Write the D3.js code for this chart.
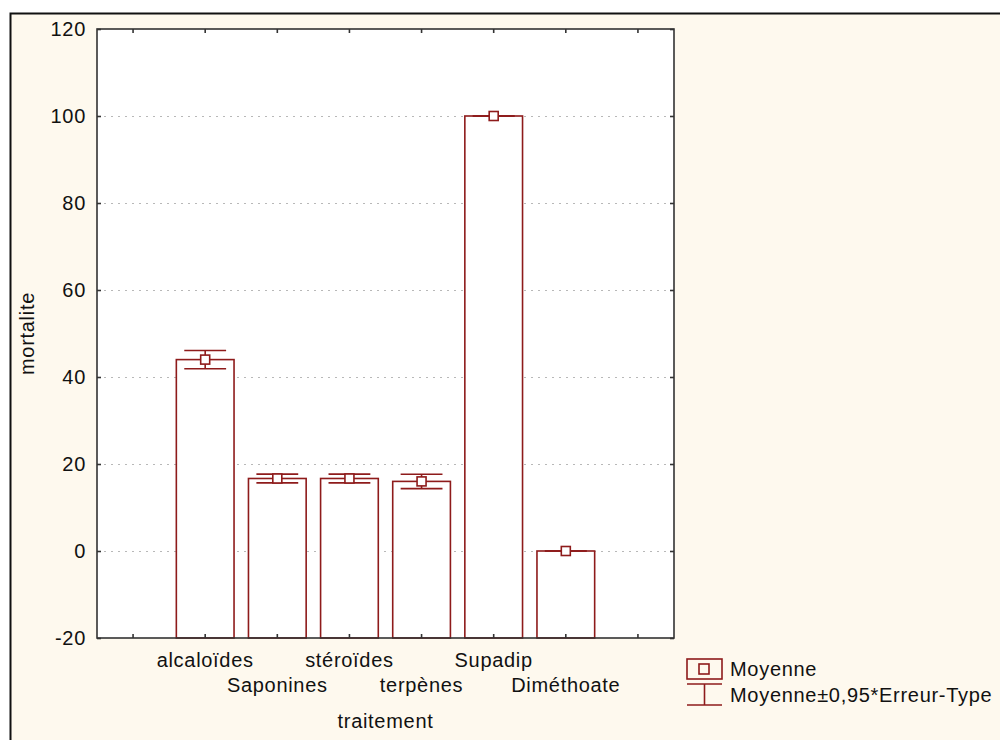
<!DOCTYPE html>
<html>
<head>
<meta charset="utf-8">
<script src="https://cdn.jsdelivr.net/npm/d3@7"></script>
<style>
  body { margin: 0; background: #fff; }
  svg { display: block; font-family: "Liberation Sans", Arial, sans-serif; }
  svg text { letter-spacing: 0.7px; }
</style>
</head>
<body>
<svg id="chart" width="1000" height="740"></svg>
<script>
const categories = ["alcaloïdes", "Saponines", "stéroïdes", "terpènes", "Supadip", "Diméthoate"];
const means = [44, 16.67, 16.67, 16, 100, 0];
const errors = [2.1, 1.0, 1.0, 1.65, 0, 0];
const yTicks = [-20, 0, 20, 40, 60, 80, 100, 120];
const gridTicks = [0, 20, 40, 60, 80, 100];

const red = "#8e1b1b";
const svg = d3.select("#chart");

// outer frame
svg.append("rect")
    .attr("x", 10.5).attr("y", 13.5)
    .attr("width", 1000).attr("height", 740)
    .attr("fill", "#fef9ee")
    .attr("stroke", "#111")
    .attr("stroke-width", 2);

const pLeft = 97, pRight = 674, pTop = 29, pBottom = 638;

// 8 slots, first and last empty
const x = d3.scaleBand()
    .domain(d3.range(8))
    .range([pLeft, pRight])
    .padding(0);

const y = d3.scaleLinear()
    .domain([-20, 120])
    .range([pBottom, pTop]);

const data = categories.map((c, i) => ({ name: c, mean: means[i], err: errors[i], slot: i + 1 }));

svg.append("rect")
    .attr("x", pLeft).attr("y", pTop)
    .attr("width", pRight - pLeft).attr("height", pBottom - pTop)
    .attr("fill", "#fff");

// grid
svg.append("g")
    .selectAll("line")
    .data(gridTicks)
    .join("line")
    .attr("x1", pLeft).attr("x2", pRight)
    .attr("y1", d => y(d) + 0.5).attr("y2", d => y(d) + 0.5)
    .attr("stroke", "#b8b8b8")
    .attr("stroke-width", 1)
    .attr("stroke-dasharray", "2,5");

// bars
const bw = x.bandwidth() * 0.8;
const cx = d => x(d.slot) + x.bandwidth() / 2;

svg.append("g")
    .selectAll("rect")
    .data(data)
    .join("rect")
    .attr("x", d => cx(d) - bw / 2)
    .attr("y", d => y(d.mean))
    .attr("width", bw)
    .attr("height", d => pBottom - y(d.mean))
    .attr("fill", "#fff")
    .attr("stroke", red)
    .attr("stroke-width", 1.6);

// error bars
const capW = x.bandwidth() * 0.29;
const eg = svg.append("g").attr("stroke", red).attr("stroke-width", 1.6).attr("fill", "none");
data.forEach(d => {
    const c = cx(d);
    eg.append("line").attr("x1", c).attr("x2", c)
        .attr("y1", y(d.mean + d.err)).attr("y2", y(d.mean - d.err));
    [d.mean + d.err, d.mean - d.err].forEach(v => {
        eg.append("line").attr("x1", c - capW).attr("x2", c + capW)
            .attr("y1", y(v)).attr("y2", y(v));
    });
});

// mean markers
svg.append("g")
    .selectAll("rect")
    .data(data)
    .join("rect")
    .attr("x", d => cx(d) - 4.5)
    .attr("y", d => y(d.mean) - 4.5)
    .attr("width", 9).attr("height", 9)
    .attr("fill", "#fff")
    .attr("stroke", red)
    .attr("stroke-width", 1.6);

// frame
svg.append("rect")
    .attr("x", pLeft).attr("y", pTop)
    .attr("width", pRight - pLeft).attr("height", pBottom - pTop)
    .attr("fill", "none")
    .attr("stroke", "#333")
    .attr("stroke-width", 1.6);

// axes with inward ticks
const tickLen = 4;
svg.append("g")
    .attr("transform", `translate(${pLeft},0)`)
    .call(d3.axisLeft(y).tickValues(yTicks).tickSize(-tickLen).tickPadding(11).tickFormat(d => String(d)))
    .call(g => g.select(".domain").remove())
    .call(g => g.selectAll("line").attr("stroke", "#333").attr("stroke-width", 1.6))
    .call(g => g.selectAll("text").attr("font-size", 20).attr("fill", "#111").attr("font-family", "Liberation Sans, Arial, sans-serif"));

svg.append("g")
    .attr("transform", `translate(${pRight},0)`)
    .call(d3.axisRight(y).tickValues(yTicks).tickSize(-tickLen).tickFormat(""))
    .call(g => g.select(".domain").remove())
    .call(g => g.selectAll("line").attr("stroke", "#333").attr("stroke-width", 1.6));

svg.append("g")
    .attr("transform", `translate(0,${pBottom})`)
    .call(d3.axisBottom(x).tickSize(-tickLen).tickFormat(""))
    .call(g => g.select(".domain").remove())
    .call(g => g.selectAll("line").attr("stroke", "#333").attr("stroke-width", 1.6));

svg.append("g")
    .attr("transform", `translate(0,${pTop})`)
    .call(d3.axisTop(x).tickSize(-tickLen).tickFormat(""))
    .call(g => g.select(".domain").remove())
    .call(g => g.selectAll("line").attr("stroke", "#333").attr("stroke-width", 1.6));

// category labels, staggered
svg.append("g")
    .selectAll("text")
    .data(data)
    .join("text")
    .attr("x", d => cx(d))
    .attr("y", (d, i) => i % 2 === 0 ? 667 : 692)
    .attr("text-anchor", "middle")
    .attr("font-size", 20)
    .attr("fill", "#111")
    .text(d => d.name);

svg.append("text")
    .attr("x", (pLeft + pRight) / 2)
    .attr("y", 728)
    .attr("text-anchor", "middle")
    .attr("font-size", 20)
    .attr("fill", "#111")
    .text("traitement");

svg.append("text")
    .attr("transform", `translate(34,${(pTop + pBottom) / 2}) rotate(-90)`)
    .attr("text-anchor", "middle")
    .attr("font-size", 20)
    .attr("fill", "#111")
    .text("mortalite");

// legend
const lg = svg.append("g").attr("stroke", red).attr("stroke-width", 1.6).attr("fill", "none");
lg.append("rect").attr("x", 687).attr("y", 659).attr("width", 35).attr("height", 20);
lg.append("rect").attr("x", 699).attr("y", 664).attr("width", 10).attr("height", 10);
lg.append("line").attr("x1", 687).attr("x2", 722).attr("y1", 684).attr("y2", 684);
lg.append("line").attr("x1", 704.5).attr("x2", 704.5).attr("y1", 684).attr("y2", 705);
lg.append("line").attr("x1", 687).attr("x2", 722).attr("y1", 705).attr("y2", 705);

svg.append("text").attr("x", 730).attr("y", 676).attr("font-size", 20).attr("fill", "#111").text("Moyenne");
svg.append("text").attr("x", 730).attr("y", 702).attr("font-size", 20).attr("fill", "#111").text("Moyenne±0,95*Erreur-Type");
</script>
</body>
</html>
